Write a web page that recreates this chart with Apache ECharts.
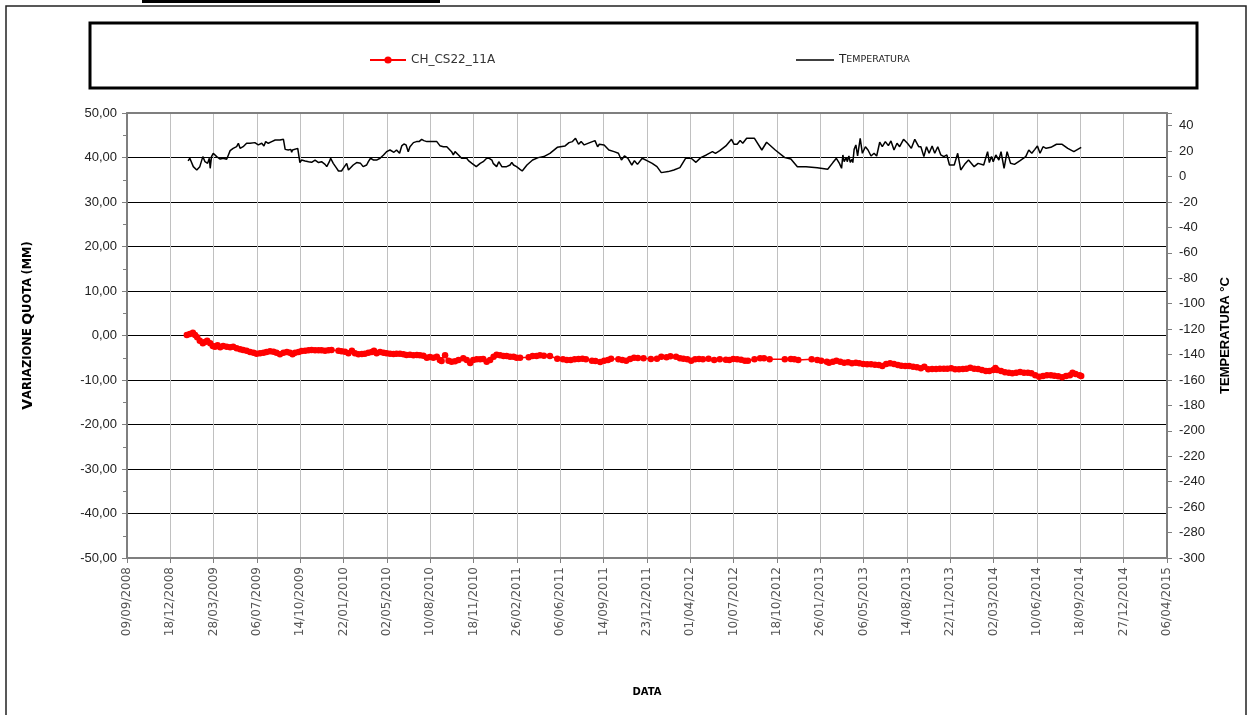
<!DOCTYPE html>
<html>
<head>
<meta charset="utf-8">
<script src="https://cdn.jsdelivr.net/npm/echarts@6/dist/echarts.min.js"></script>
<style>
html,body{margin:0;padding:0;background:#fff;}
#chart{width:1254px;height:715px;}
</style>
</head>
<body>
<div id="chart"></div>
<script>
// x values are days elapsed since 09/09/2008 (first axis tick)
const xTickLabels = ['09/09/2008','18/12/2008','28/03/2009','06/07/2009','14/10/2009','22/01/2010','02/05/2010','10/08/2010','18/11/2010','26/02/2011','06/06/2011','14/09/2011','23/12/2011','01/04/2012','10/07/2012','18/10/2012','26/01/2013','06/05/2013','14/08/2013','22/11/2013','02/03/2014','10/06/2014','18/09/2014','27/12/2014','06/04/2015'];

const quotaName = 'CH_CS22_11A';
const tempName = 'Temperatura';

const quotaDays = [138,145,152,157,162,168,175,180,185,192,198,203,209,215,222,230,238,245,253,261,268,276,284,292,299,307,315,322,330,338,345,353,361,369,376,382,388,396,403,411,419,426,434,442,449,457,465,472,488,495,503,511,519,526,534,542,549,557,565,570,576,584,592,599,607,615,622,630,638,645,653,661,669,676,684,692,699,707,715,722,726,734,742,749,757,765,776,784,792,799,807,815,822,830,838,846,853,861,869,876,884,892,899,907,
927,936,945,953,962,976,993,1006,1015,1024,1033,1042,1051,1059,1073,1081,1092,1101,1110,1117,1134,1143,1152,1161,1170,1179,1192,1209,1223,1233,1245,1254,1267,1276,1284,1293,1302,1311,1320,1329,1342,1355,1368,1382,1390,1399,1408,1417,1426,1433,1448,1461,1470,1483,1518,1532,1540,1549,1580,1593,1602,1615,1620,1629,1637,1646,1655,1664,1673,1682,1690,1699,1708,1717,1726,1735,1743,1752,1761,1770,1779,1787,1796,1805,1814,1823,1832,1840,1849,1858,1867,1876,1885,1893,1902,1911,1920,1929,1937,1946,1955,1964,1973,1982,1990,1999,2004,2008,2017,2026,2035,2043,2052,2061,2070,2079,2087,2096,2105,2114,2123,2132,2140,2149,2158,2167,2176,2182,2189,2198,2202];

const quotaValues = [0.11,0.34,0.64,0.11,-0.41,-1.16,-1.76,-1.46,-1.16,-1.76,-2.36,-2.51,-2.21,-2.66,-2.36,-2.51,-2.66,-2.51,-2.88,-3.11,-3.26,-3.41,-3.71,-3.86,-4.08,-4.01,-3.86,-3.71,-3.56,-3.63,-3.86,-4.23,-3.86,-3.71,-3.86,-4.23,-3.86,-3.71,-3.48,-3.41,-3.33,-3.26,-3.33,-3.33,-3.33,-3.41,-3.33,-3.26,-3.41,-3.56,-3.63,-4.01,-3.41,-4.01,-4.23,-4.16,-4.08,-3.86,-3.71,-3.41,-4.01,-3.71,-3.86,-4.01,-4.08,-4.16,-4.08,-4.08,-4.23,-4.38,-4.31,-4.46,-4.38,-4.46,-4.53,-4.98,-4.83,-4.98,-4.76,-5.51,-5.73,-4.46,-5.65,-5.88,-5.80,-5.51,-5.13,-5.51,-6.18,-5.51,-5.36,-5.36,-5.28,-5.88,-5.51,-4.76,-4.31,-4.46,-4.61,-4.61,-4.76,-4.76,-4.98,-4.98,
-4.91,-4.61,-4.61,-4.46,-4.53,-4.61,-5.21,-5.36,-5.51,-5.51,-5.36,-5.28,-5.21,-5.36,-5.65,-5.73,-5.95,-5.65,-5.51,-5.21,-5.36,-5.51,-5.65,-5.28,-4.98,-5.06,-5.13,-5.28,-5.21,-4.76,-4.91,-4.68,-4.76,-5.13,-5.21,-5.36,-5.65,-5.36,-5.28,-5.36,-5.21,-5.51,-5.36,-5.43,-5.51,-5.28,-5.36,-5.43,-5.65,-5.65,-5.36,-5.13,-5.13,-5.36,-5.36,-5.28,-5.36,-5.51,-5.36,-5.51,-5.65,-5.88,-6.10,-5.88,-5.65,-5.88,-6.10,-6.03,-6.25,-6.10,-6.25,-6.40,-6.48,-6.48,-6.55,-6.63,-6.85,-6.40,-6.25,-6.40,-6.63,-6.78,-6.85,-6.85,-7.00,-7.15,-7.38,-7.00,-7.60,-7.53,-7.53,-7.45,-7.45,-7.45,-7.38,-7.60,-7.60,-7.53,-7.45,-7.23,-7.45,-7.53,-7.75,-7.98,-7.98,-7.75,-7.30,-7.75,-7.98,-8.28,-8.35,-8.50,-8.35,-8.20,-8.35,-8.35,-8.50,-8.95,-9.25,-9.10,-8.95,-8.95,-9.03,-9.18,-9.40,-9.10,-8.95,-8.35,-8.65,-8.95,-9.10];

const tempDays = [141,145,153,161,168,175,180,184,186,190,192,195,199,203,207,215,222,230,234,238,245,253,257,261,268,276,280,284,288,295,299,303,307,311,316,320,322,326,330,334,338,342,345,353,361,365,372,378,380,382,385,394,399,403,411,419,426,434,442,449,457,461,467,470,476,484,488,492,495,499,503,507,511,515,522,530,534,539,545,549,553,557,562,569,576,584,592,599,607,611,616,622,629,634,639,644,649,653,661,668,674,680,685,692,699,707,715,722,730,738,742,749,753,757,765,772,776,784,788,796,799,806,815,822,830,836,842,845,853,858,865,869,876,884,888,892,899,907,
912,923,936,949,962,976,993,1011,1020,1028,1035,1042,1048,1055,1068,1080,1086,1090,1101,1112,1124,1134,1141,1148,1156,1165,1171,1178,1189,1201,1212,1223,1233,1249,1262,1276,1289,1302,1313,1324,1337,1351,1358,1368,1382,1395,1401,1408,1415,1421,1430,1448,1465,1476,1496,1518,1532,1547,1567,1593,1617,1629,1637,1644,1649,1652,1655,1660,1662,1666,1669,1673,1675,1678,1682,1686,1692,1697,1704,1710,1717,1724,1730,1737,1743,1750,1757,1763,1770,1777,1783,1792,1801,1810,1818,1827,1832,1839,1845,1851,1858,1864,1871,1878,1885,1892,1898,1909,1917,1924,1933,1942,1946,1955,1964,1977,1986,1990,1995,1999,2005,2012,2017,2024,2031,2039,2048,2061,2074,2081,2088,2095,2101,2107,2114,2121,2132,2145,2158,2171,2185,2202];

const tempValues = [12.3,14.4,7.8,5.2,7.8,15.7,11.7,13.0,10.4,14.4,6.5,15.7,18.3,17.0,15.7,13.8,14.4,13.6,17.0,20.4,22.2,23.5,26.2,22.2,23.5,26.2,27.5,26.2,24.9,26.7,26.2,24.9,24.1,26.2,24.1,27.5,28.3,26.2,24.9,27.5,26.7,28.8,29.3,28.8,29.3,21.4,20.9,21.4,19.1,20.9,22.2,22.2,11.0,13.0,12.3,11.7,11.2,13.0,11.0,11.7,9.6,7.8,11.7,14.4,10.4,6.5,4.4,5.2,4.4,6.5,7.8,10.4,5.2,6.5,9.1,11.0,11.7,10.4,7.8,7.0,9.1,11.7,14.4,13.0,13.0,14.4,17.0,19.6,20.9,19.6,19.1,20.9,18.3,24.1,25.6,24.9,19.6,23.5,26.7,27.5,27.5,29.3,28.3,27.5,27.5,27.5,27.5,24.3,23.5,23.5,23.0,19.6,17.0,19.6,17.0,14.4,13.0,14.4,12.5,10.4,9.9,7.8,10.4,11.7,14.4,14.4,13.0,10.4,7.8,11.7,7.8,7.0,7.8,9.1,11.2,9.1,7.8,5.7,
4.4,9.1,13.0,14.9,15.7,18.3,23.0,24.1,26.7,27.5,30.1,25.4,27.5,24.9,26.7,28.3,23.5,25.4,24.9,20.9,19.6,18.3,13.0,16.2,14.4,9.1,12.5,9.6,14.4,12.3,10.4,7.8,3.1,3.9,5.2,7.0,14.4,14.4,11.2,14.9,17.0,19.6,18.3,20.4,24.1,29.3,25.4,25.4,28.3,26.2,30.1,30.1,20.9,27.0,20.9,14.9,13.8,7.8,7.8,7.0,5.7,11.0,14.4,10.4,6.5,17.0,11.7,15.1,11.7,16.2,11.2,13.6,11.0,21.4,24.9,16.2,30.1,18.3,23.5,20.9,16.2,18.3,16.2,27.0,23.5,27.5,24.3,28.0,20.9,26.2,23.5,29.3,26.2,22.2,29.3,23.5,23.5,15.7,23.5,18.3,24.1,18.3,23.5,17.0,15.7,17.0,9.1,9.1,18.3,5.2,9.6,13.0,14.4,7.8,10.4,9.1,19.6,11.0,15.7,11.7,17.0,13.0,19.6,6.5,19.6,10.4,9.6,12.5,15.7,20.9,18.3,21.4,24.1,18.3,23.5,22.2,23.0,25.4,25.4,22.2,19.6,23.0];

const quotaData = quotaDays.map((d, i) => [d, quotaValues[i]]);
const tempData = tempDays.map((d, i) => [d, tempValues[i]]);

const chart = echarts.init(document.getElementById('chart'), null, {renderer: 'canvas'});
const gray = '#7f7f7f';
const option = {
  animation: false,
  backgroundColor: '#ffffff',
  graphic: [
    {type: 'rect', shape: {x: 142, y: 0, width: 298, height: 3}, style: {fill: '#000'}, z: 0},
    {type: 'rect', shape: {x: 6, y: 6, width: 1240, height: 730}, style: {fill: 'none', stroke: '#222', lineWidth: 1.5}, z: 0},
    {type: 'rect', shape: {x: 90, y: 23, width: 1107, height: 65}, style: {fill: 'none', stroke: '#000', lineWidth: 3}, z: 0}
  ],
  grid: {left: 127, right: 87, top: 113, bottom: 157, containLabel: false},
  legend: [
    {data: [quotaName], left: 364, top: 49, itemWidth: 36, itemHeight: 9,
      textStyle: {fontFamily: 'DejaVu Sans', fontSize: 12, color: '#333'}},
    {data: [{name: tempName, icon: 'rect'}], left: 791, top: 49, itemWidth: 38, itemHeight: 1.5,
      formatter: () => '{b|T}{s|EMPERATURA}',
      textStyle: {rich: {
        b: {fontFamily: 'DejaVu Sans', fontSize: 12, color: '#222'},
        s: {fontFamily: 'DejaVu Sans', fontSize: 9.5, color: '#222'}
      }}}
  ],
  xAxis: [
    {type: 'value', min: 0, max: 2400, interval: 100, position: 'bottom',
      name: 'DATA', nameLocation: 'middle', nameGap: 129,
      nameTextStyle: {fontFamily: 'DejaVu Sans', fontWeight: 'bold', fontSize: 10, color: '#000'},
      axisLine: {show: true, onZero: false, lineStyle: {color: gray, width: 2}},
      axisTick: {show: true, length: 5, lineStyle: {color: gray}},
      axisLabel: {rotate: 90, margin: 9, fontFamily: 'DejaVu Sans', fontSize: 12, color: '#555',
        formatter: v => xTickLabels[Math.round(v / 100)] || ''},
      splitLine: {show: true, lineStyle: {color: '#c0c0c0', width: 1}}},
    {type: 'value', min: 0, max: 2400, position: 'top',
      axisLine: {show: true, onZero: false, lineStyle: {color: gray, width: 2}},
      axisTick: {show: false}, axisLabel: {show: false}, splitLine: {show: false}}
  ],
  yAxis: [
    {type: 'value', min: -50, max: 50, interval: 10, position: 'left',
      name: '{b|V}{s|ARIAZIONE} {b|Q}{s|UOTA} {s|(MM)}', nameLocation: 'middle', nameGap: 92, nameRotate: 90,
      nameTextStyle: {padding: [0, 0, 0, 20], rich: {
        b: {fontFamily: 'DejaVu Sans', fontWeight: 'bold', fontSize: 14, color: '#000'},
        s: {fontFamily: 'DejaVu Sans', fontWeight: 'bold', fontSize: 11.5, color: '#000'}
      }},
      axisLine: {show: true, onZero: false, lineStyle: {color: gray, width: 2}},
      axisTick: {show: true, length: 5, lineStyle: {color: gray}},
      minorTick: {show: true, splitNumber: 2, length: 4, lineStyle: {color: gray}},
      axisLabel: {margin: 10, fontFamily: 'Liberation Sans', fontSize: 13, color: '#222',
        formatter: v => v.toFixed(2).replace('.', ',')},
      splitLine: {show: true, showMinLine: false, showMaxLine: false, lineStyle: {color: '#000', width: 1}}},
    {type: 'value', min: -300, max: 50, interval: 20, position: 'right',
      name: 'TEMPERATURA °C', nameLocation: 'middle', nameGap: 52, nameRotate: 90,
      nameTextStyle: {fontFamily: 'Liberation Sans', fontWeight: 'bold', fontSize: 13, color: '#000'},
      axisLine: {show: true, onZero: false, lineStyle: {color: gray, width: 2}},
      axisTick: {show: true, length: 5, lineStyle: {color: gray}},
      axisLabel: {margin: 12, fontFamily: 'Liberation Sans', fontSize: 13, color: '#222',
        formatter: v => (v > 40 ? '' : String(v))},
      splitLine: {show: false}}
  ],
  series: [
    {name: quotaName, type: 'line', xAxisIndex: 0, yAxisIndex: 0, data: quotaData,
      symbol: 'circle', symbolSize: 6.5, showSymbol: true,
      itemStyle: {color: '#ff0000'}, lineStyle: {color: '#ff0000', width: 1.5}, z: 4},
    {name: tempName, type: 'line', xAxisIndex: 0, yAxisIndex: 1, data: tempData,
      symbol: 'none', showSymbol: false,
      itemStyle: {color: '#000'}, lineStyle: {color: '#000', width: 1.5}, z: 3}
  ]
};
chart.setOption(option);
</script>
</body>
</html>
